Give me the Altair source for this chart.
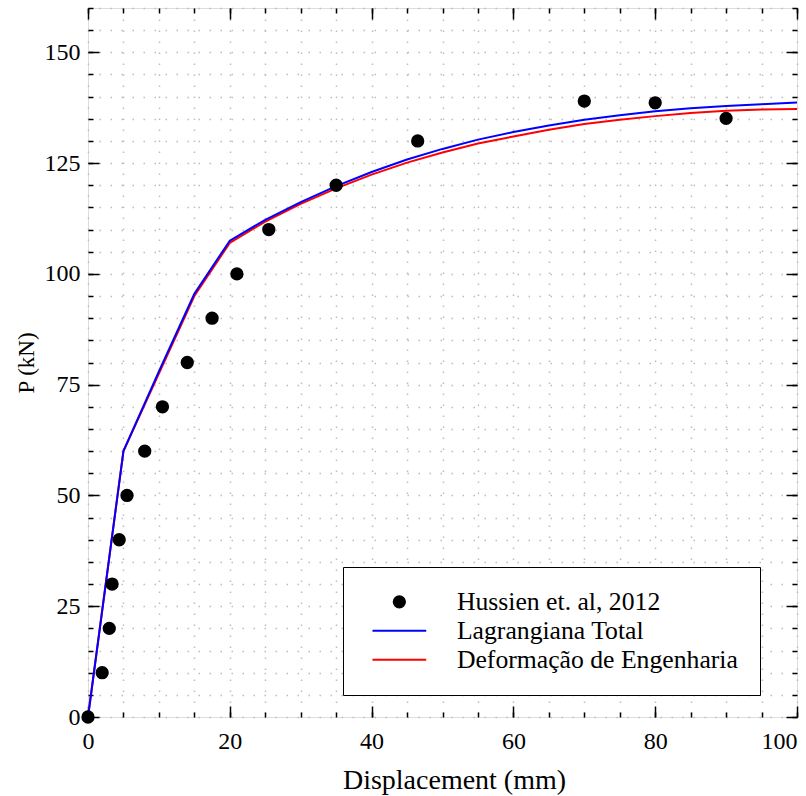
import altair as alt
import pandas as pd

# ---- data ----
exp_x = [0, 2.0, 3.0, 3.4, 4.4, 5.5, 8.0, 10.5, 14.0, 17.5, 21.0, 25.5, 35.0, 46.5, 70.0, 80.0, 90.0]
exp_y = [0, 10, 20, 30, 40, 50, 60, 70, 80, 90, 100, 110, 120, 130, 139, 138.6, 135.1]

line_x = [0, 5, 10, 15, 20, 25, 30, 35, 40, 45, 50, 55, 60, 65, 70, 75, 80, 85, 90, 95, 100]
lag_y = [0, 60, 78, 95.5, 107.5, 112.2, 116.2, 119.8, 123.0, 125.8, 128.2, 130.3, 132.0,
         133.5, 134.8, 135.8, 136.7, 137.4, 137.9, 138.3, 138.7]
eng_y = [0, 60, 77.5, 95, 107, 111.8, 115.8, 119.3, 122.4, 125.1, 127.4, 129.4, 131.0,
         132.5, 133.8, 134.8, 135.6, 136.3, 136.8, 137.1, 137.2]

S_EXP = "Hussien et. al, 2012"
S_LAG = "Lagrangiana Total"
S_ENG = "Deformação de Engenharia"
series_names = [S_EXP, S_LAG, S_ENG]
series_colors = ["black", "blue", "red"]

x_major = [0, 20, 40, 60, 80, 100]
x_minor = list(range(0, 101, 5))
y_major = [0, 25, 50, 75, 100, 125, 150]
y_minor = list(range(0, 161, 5))

FONT = "Liberation Serif"

df_exp = pd.DataFrame({"x": exp_x, "y": exp_y, "s": S_EXP})
df_lag = pd.DataFrame({"x": line_x, "y": lag_y, "s": S_LAG})
df_eng = pd.DataFrame({"x": line_x, "y": eng_y, "s": S_ENG})

xs = alt.Scale(domain=[0, 100], nice=False, zero=False)
ys = alt.Scale(domain=[0, 160], nice=False, zero=False)

cond = "datum.value === '" + S_EXP + "'"
legend = alt.Legend(
    title=None, orient="none", legendX=255, legendY=559,
    fillColor="white", strokeColor="black", padding=22,
    labelFont=FONT, labelFontSize=25.7, labelColor="black",
    symbolType={"expr": cond + " ? 'circle' : 'M-3.8,0L3.8,0'"},
    symbolSize={"expr": cond + " ? 128 : 200"},
    symbolFillColor={"expr": cond + " ? 'black' : 'transparent'"},
    symbolStrokeWidth=2, symbolOffset=21.5, labelOffset=44.7,
    rowPadding=2, labelLimit=600,
)
color = alt.Color("s:N", scale=alt.Scale(domain=series_names, range=series_colors), legend=legend)

common = dict(domain=False, tickColor="black", tickWidth=1.5, labelFont=FONT,
              labelFontSize=24, labelColor="black", titleFont=FONT, titleColor="black",
              titleFontWeight="normal")

ax_x_bottom_major = alt.Axis(orient="bottom", values=x_major, tickSize={"expr": "-11"},
                             labelPadding=23, grid=False, title="Displacement (mm)",
                             titleFontSize=28, titleX=366, titleY=71, titleBaseline="alphabetic",
                             titleAlign="center", labelFlush=False, format="d",
                             labelAlign={"expr": "datum.value == 100 ? 'right' : 'center'"},
                             **common)
ax_y_left_major = alt.Axis(orient="left", values=y_major, tickSize={"expr": "-11"},
                           labelPadding=19, grid=False, title=None,
                           labelFlush=False, format="d", **common)
ax_x_bottom_minor = alt.Axis(orient="bottom", values=x_minor, tickSize={"expr": "-5"},
                             labels=False, title=None, grid=True, gridColor="#bdbdbd",
                             gridDash=[1.5, 9.5], gridWidth=1.5, **common)
ax_y_left_minor = alt.Axis(orient="left", values=y_minor, tickSize={"expr": "-5"},
                           labels=False, grid=True, gridColor="#bdbdbd",
                           gridDash=[1.5, 9.5], gridWidth=1.5,
                           title="P (kN)", titleFontSize=23, titleX=-55, titleY=354.5,
                           titleAngle=270, titleBaseline="alphabetic", titleAlign="center",
                           **common)
ax_x_top_major = alt.Axis(orient="top", values=x_major, tickSize={"expr": "-11"},
                          labels=False, title=None, grid=False, **common)
ax_y_right_major = alt.Axis(orient="right", values=y_major, tickSize={"expr": "-11"},
                            labels=False, title=None, grid=False, **common)
ax_x_top_minor = alt.Axis(orient="top", values=x_minor, tickSize={"expr": "-5"},
                          labels=False, title=None, grid=False, **common)
ax_y_right_minor = alt.Axis(orient="right", values=y_minor, tickSize={"expr": "-5"},
                            labels=False, title=None, grid=False, **common)

red = alt.Chart(df_eng).mark_line(strokeWidth=2).encode(
    x=alt.X("x:Q", scale=xs, axis=ax_x_bottom_major),
    y=alt.Y("y:Q", scale=ys, axis=ax_y_left_major),
    color=color,
)
blue = alt.Chart(df_lag).mark_line(strokeWidth=2).encode(
    x=alt.X("x:Q", scale=xs, axis=ax_x_bottom_minor),
    y=alt.Y("y:Q", scale=ys, axis=ax_y_left_minor),
    color=color,
)
pts = alt.Chart(df_exp).mark_circle(size=177, opacity=1, color="black").encode(
    x=alt.X("x:Q", scale=xs, axis=ax_x_top_major),
    y=alt.Y("y:Q", scale=ys, axis=ax_y_right_major),
)
ghost = alt.Chart(df_exp).mark_circle(size=10, opacity=0).encode(
    x=alt.X("x:Q", scale=xs, axis=ax_x_top_minor),
    y=alt.Y("y:Q", scale=ys, axis=ax_y_right_minor),
)

chart = alt.layer(red, blue, pts, ghost).resolve_axis(
    x="independent", y="independent"
).properties(
    width=709, height=709,
    autosize=alt.AutoSizeParams(type="none"),
    padding={"left": 88, "top": 8, "right": 9, "bottom": 79},
    background="white",
).configure_view(
    stroke="black", strokeWidth=1.5
).configure(
    font=FONT
).configure_axis(
    labelFont=FONT, labelFontSize=24, titleFont=FONT, titleFontWeight="normal"
).configure_legend(
    labelFont=FONT, labelFontSize=25.7
)

chart.save("out.html", embed_options={"renderer": "svg", "actions": False})
